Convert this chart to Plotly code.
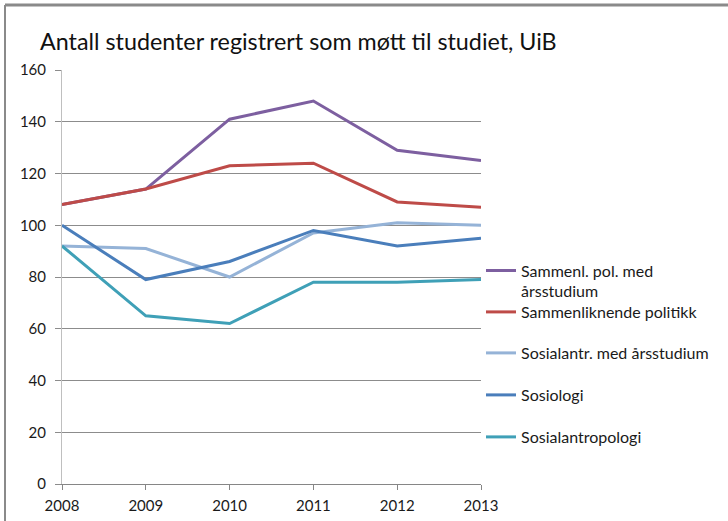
import plotly.graph_objects as go

years = [2008, 2009, 2010, 2011, 2012, 2013]

series_names = [
    "Sammenl. pol. med<br>årsstudium",
    "Sammenliknende politikk",
    "Sosialantr. med årsstudium",
    "Sosiologi",
    "Sosialantropologi",
]
sammenl_pol_aar = [108, 114, 141, 148, 129, 125]
sammenl_politikk = [108, 114, 123, 124, 109, 107]
sosialantr_aar = [92, 91, 80, 97, 101, 100]
sosiologi = [100, 79, 86, 98, 92, 95]
sosialantropologi = [92, 65, 62, 78, 78, 79]

colors = ['#7D5FA0', '#BE4B48', '#95B3D7', '#4A7EBB', '#3FA0B7']

# plot area in pixels (left, right, top, bottom)
L, R, T, B = 62, 481, 70, 484
W, H = 728, 521
FONT = 'Lato, "Open Sans", sans-serif'

def px_x(p):
    return (p - L) / (R - L)

def px_y(p):
    return (B - p) / (B - T)

fig = go.Figure()

all_values = [sammenl_pol_aar, sammenl_politikk, sosialantr_aar, sosiologi, sosialantropologi]
legend_ids = ['legend', 'legend2', 'legend3', 'legend4', 'legend5']
for name, vals, col, lg in zip(series_names, all_values, colors, legend_ids):
    fig.add_trace(go.Scatter(
        x=years,
        y=vals,
        mode='lines',
        name=name,
        line=dict(color=col, width=3),
        legend=lg
    ))

legend_font = dict(family=FONT, size=16, color='#1a1a1a')
legend_centers = [281, 312, 353, 395, 437]
legends = {}
for lg, yc in zip(legend_ids, legend_centers):
    legends[lg] = dict(
        x=px_x(481), xanchor='left',
        y=px_y(yc), yanchor='middle',
        font=legend_font,
        bgcolor='rgba(0,0,0,0)',
        valign='top',
        itemwidth=30
    )

fig.update_layout(
    width=W,
    height=H,
    paper_bgcolor='white',
    plot_bgcolor='white',
    margin=dict(l=L, r=W - R, t=T, b=H - B, pad=0, autoexpand=False),
    title=dict(
        text='Antall studenter registrert som møtt til studiet, UiB',
        font=dict(family=FONT, size=23.3, color='#111111'),
        x=40 / W, xanchor='left', xref='container',
        y=1 - 42 / H, yanchor='middle', yref='container'
    ),
    showlegend=True,
    **legends
)

fig.update_xaxes(
    range=[2008, 2013],
    tickvals=years,
    ticktext=[str(y) for y in years],
    showgrid=False,
    showline=True,
    linecolor='#868686',
    linewidth=1,
    ticks='outside',
    ticklen=5,
    tickcolor='#868686',
    ticklabelstandoff=3,
    tickfont=dict(family=FONT, size=15, color='#1a1a1a'),
    zeroline=False,
    automargin=False
)

fig.update_yaxes(
    range=[0, 160],
    dtick=20,
    showgrid=True,
    gridcolor='#8c8c8c',
    gridwidth=1,
    showline=True,
    linecolor='#bfbfbf',
    linewidth=1,
    ticks='outside',
    ticklen=6,
    tickcolor='#8c8c8c',
    ticklabelstandoff=6,
    tickfont=dict(family=FONT, size=15, color='#1a1a1a'),
    zeroline=False,
    automargin=False
)

# frame lines from the original screenshot (top and left edges)
fig.add_shape(type='line', xref='paper', yref='paper',
              x0=px_x(5), x1=px_x(W + 5), y0=px_y(5), y1=px_y(5),
              line=dict(color='#8a8a8a', width=3))
fig.add_shape(type='line', xref='paper', yref='paper',
              x0=px_x(5), x1=px_x(5), y0=px_y(5), y1=px_y(H + 5),
              line=dict(color='#8a8a8a', width=2))

# remove the default page margin so the figure starts at the window corner
fig.write_html("out.html", config={'displayModeBar': False},
               post_script="document.body.style.margin='0';")
